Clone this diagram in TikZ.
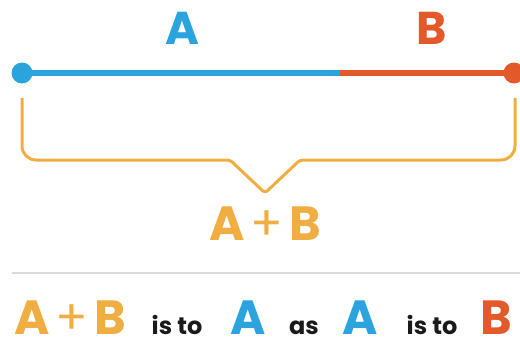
\documentclass[tikz,border=0pt]{standalone}
\usepackage{fontspec}
\setmainfont{Poppins}
\definecolor{cblue}{HTML}{2BA3DC}
\definecolor{corange}{HTML}{E4592A}
\definecolor{cgold}{HTML}{F0AE42}
\definecolor{cgray}{HTML}{DADADA}
\definecolor{ctext}{HTML}{1A1A1A}
\newcommand{\plusgap}{\hspace{0.12em}{\mdseries +}\hspace{0.12em}}
\begin{document}
\begin{tikzpicture}[x=1pt,y=-1pt,
  big/.style={font=\fontsize{46}{46}\selectfont\bfseries,anchor=base,inner sep=0pt},
  low/.style={font=\fontsize{48}{48}\selectfont\bfseries,anchor=base,inner sep=0pt,text depth=0pt},
  word/.style={font=\fontsize{24}{24}\selectfont\bfseries,anchor=base,inner sep=0pt,text=ctext},
  dot/.style={circle,inner sep=0pt,minimum size=21pt},
  seg/.style={line width=6pt},
  brace/.style={line width=3pt,draw=cgold,line join=round}]
\useasboundingbox (0,0) rectangle (520,343);
% top labels
\node[big,text=cblue] (ta) at (182,44) {A};
\node[big,text=corange] (tb) at (432,44) {B};
% line
\node[dot,fill=cblue] (d1) at (22,73) {};
\node[dot,fill=corange] (d2) at (514,73) {};
\coordinate (m) at (340,73);
\draw[seg,cblue] (d1.center) -- (m);
\draw[seg,corange] (m) -- (d2.center);
% brace
\coordinate (b1) at (22,98);
\coordinate (b2) at (515,98);
\draw[brace] (b1) [rounded corners=14pt] -- (22,160) [rounded corners=3pt] -- (230,160) -- (265,193) -- (300,160) [rounded corners=14pt] -- (515,160) -- (b2);
\node[low,text=cgold] (sum) at (265,240) {A\plusgap B};
% separator
\coordinate (s1) at (12,273);
\coordinate (s2) at (520,273);
\draw[cgray,line width=1.5pt] (s1) -- (s2);
% bottom row
\node[low,text=cgold] (l1) at (70,334) {A\plusgap B};
\node[word] (w1) at (177,334) {is to};
\node[low,text=cblue] (l2) at (248,334) {A};
\node[word] (w2) at (304,334) {as};
\node[low,text=cblue] (l3) at (360,334) {A};
\node[word] (w3) at (432,334) {is to};
\node[low,text=corange] (l4) at (496,334) {B};
\end{tikzpicture}
\end{document}
